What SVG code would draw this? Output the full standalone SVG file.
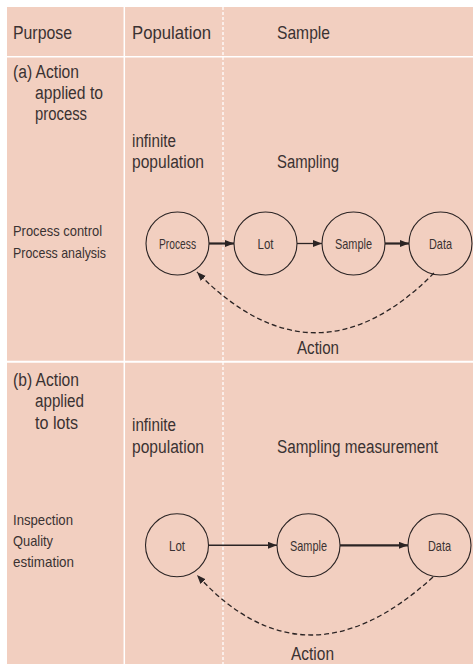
<svg xmlns="http://www.w3.org/2000/svg" width="473" height="664" viewBox="0 0 473 664">
<defs>
<marker id="ah" markerUnits="userSpaceOnUse" markerWidth="10" markerHeight="8" refX="9" refY="3.5" orient="auto">
<path d="M0,0 L9,3.5 L0,7 z" fill="#2b2424" stroke="none"/>
</marker>
</defs>
<style>
text{font-family:"Liberation Sans",Arial,sans-serif;fill:#3a3232;}
.hd{font-size:19px;}
.bd{font-size:18px;}
.lf{font-size:15px;}
.nl{font-size:15px;text-anchor:middle;}
.node circle{fill:none;stroke:#2b2424;stroke-width:1.1;}
.sep{stroke:#ffffff;fill:none;}
.conn line{stroke:#2b2424;marker-end:url(#ah);}
.conn path{fill:none;stroke:#2b2424;stroke-width:1.3;stroke-dasharray:5 3;marker-end:url(#ah);}
</style>
<rect x="0" y="0" width="473" height="664" fill="#ffffff"/>
<rect x="7" y="7" width="466" height="657" fill="#f2cfc0"/>
<g id="grid">
<line class="sep" x1="124.3" y1="7" x2="124.3" y2="664" stroke-width="1.5"/>
<line class="sep" x1="223" y1="7" x2="223" y2="664" stroke-width="1.3" stroke-dasharray="3 2"/>
<line class="sep" x1="7" y1="56.7" x2="473" y2="56.7" stroke-width="1.5"/>
<line class="sep" x1="7" y1="361.7" x2="473" y2="361.7" stroke-width="2"/>
</g>
<g id="headers">
<text class="hd" x="13" y="39" textLength="59" lengthAdjust="spacingAndGlyphs">Purpose</text>
<text class="hd" x="132" y="39" textLength="79" lengthAdjust="spacingAndGlyphs">Population</text>
<text class="hd" x="277" y="39" textLength="53" lengthAdjust="spacingAndGlyphs">Sample</text>
</g>
<g id="labels-a">
<text class="bd" x="13" y="78" textLength="66" lengthAdjust="spacingAndGlyphs">(a) Action</text>
<text class="bd" x="35" y="99" textLength="68" lengthAdjust="spacingAndGlyphs">applied to</text>
<text class="bd" x="35" y="120" textLength="52" lengthAdjust="spacingAndGlyphs">process</text>
<text class="bd" x="132" y="147" textLength="44" lengthAdjust="spacingAndGlyphs">infinite</text>
<text class="bd" x="132" y="168" textLength="72" lengthAdjust="spacingAndGlyphs">population</text>
<text class="bd" x="277" y="168" textLength="62" lengthAdjust="spacingAndGlyphs">Sampling</text>
<text class="lf" x="13" y="236" textLength="89" lengthAdjust="spacingAndGlyphs">Process control</text>
<text class="lf" x="13" y="258" textLength="93" lengthAdjust="spacingAndGlyphs">Process analysis</text>
<text class="bd" x="297" y="354" textLength="42" lengthAdjust="spacingAndGlyphs">Action</text>
</g>
<g id="labels-b">
<text class="bd" x="13" y="386" textLength="66" lengthAdjust="spacingAndGlyphs">(b) Action</text>
<text class="bd" x="35" y="407" textLength="49" lengthAdjust="spacingAndGlyphs">applied</text>
<text class="bd" x="35" y="429" textLength="43" lengthAdjust="spacingAndGlyphs">to lots</text>
<text class="bd" x="132" y="431" textLength="44" lengthAdjust="spacingAndGlyphs">infinite</text>
<text class="bd" x="132" y="453" textLength="72" lengthAdjust="spacingAndGlyphs">population</text>
<text class="bd" x="277" y="453" textLength="161" lengthAdjust="spacingAndGlyphs">Sampling measurement</text>
<text class="lf" x="13" y="525" textLength="60" lengthAdjust="spacingAndGlyphs">Inspection</text>
<text class="lf" x="13" y="546" textLength="40" lengthAdjust="spacingAndGlyphs">Quality</text>
<text class="lf" x="13" y="567" textLength="61" lengthAdjust="spacingAndGlyphs">estimation</text>
<text class="bd" x="291" y="660" textLength="43" lengthAdjust="spacingAndGlyphs">Action</text>
</g>
<g id="node-a-process" class="node"><circle cx="177.5" cy="243.5" r="31.5"/><text class="nl" x="177.5" y="248.5" textLength="37" lengthAdjust="spacingAndGlyphs">Process</text></g>
<g id="node-a-lot" class="node"><circle cx="265.5" cy="243.5" r="31.5"/><text class="nl" x="265.5" y="248.5" textLength="16" lengthAdjust="spacingAndGlyphs">Lot</text></g>
<g id="node-a-sample" class="node"><circle cx="353.5" cy="243.5" r="31.5"/><text class="nl" x="353.5" y="248.5" textLength="37" lengthAdjust="spacingAndGlyphs">Sample</text></g>
<g id="node-a-data" class="node"><circle cx="440.5" cy="243.5" r="31.5"/><text class="nl" x="440.5" y="248.5" textLength="23" lengthAdjust="spacingAndGlyphs">Data</text></g>
<g id="node-b-lot" class="node"><circle cx="177" cy="545.3" r="31.5"/><text class="nl" x="177" y="550.5" textLength="16" lengthAdjust="spacingAndGlyphs">Lot</text></g>
<g id="node-b-sample" class="node"><circle cx="308.5" cy="545.3" r="31.5"/><text class="nl" x="308.5" y="550.5" textLength="37" lengthAdjust="spacingAndGlyphs">Sample</text></g>
<g id="node-b-data" class="node"><circle cx="439.5" cy="545.3" r="31.5"/><text class="nl" x="439.5" y="550.5" textLength="23" lengthAdjust="spacingAndGlyphs">Data</text></g>
<g id="connectors" class="conn">
<line x1="209" y1="243.5" x2="234" y2="243.5" stroke-width="2.2"/>
<line x1="297" y1="243.5" x2="322" y2="243.5" stroke-width="1.3"/>
<line x1="385" y1="243.5" x2="409" y2="243.5" stroke-width="2.2"/>
<path d="M434,273 Q315,393 197,272"/>
<line x1="208.5" y1="545.3" x2="277" y2="545.3" stroke-width="1.5"/>
<line x1="340" y1="545.3" x2="408" y2="545.3" stroke-width="2.2"/>
<path d="M433,577 Q305,694 197,575"/>
</g>
</svg>
